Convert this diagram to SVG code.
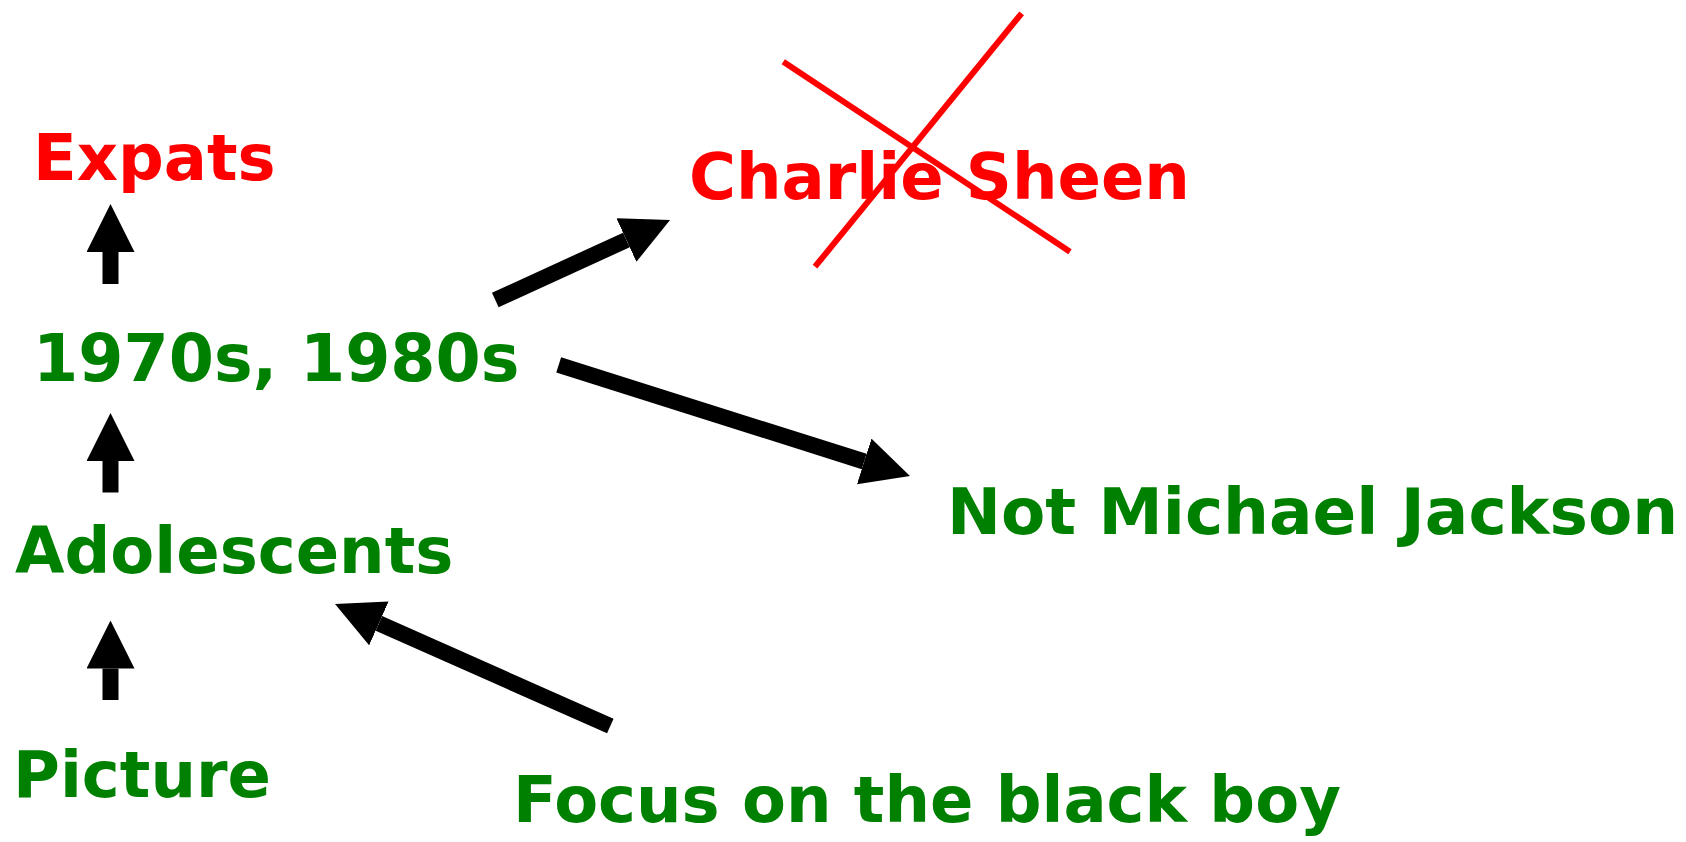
<svg xmlns="http://www.w3.org/2000/svg" width="1686" height="842" viewBox="0 0 1686 842">
<style>
text{font-family:"DejaVu Sans","Verdana",sans-serif;font-weight:bold;font-size:64px}
.red{fill:#ff0000}
.green{fill:#008000}
.conn{stroke:#000;stroke-width:16;fill:none;marker-end:url(#head)}
.cross{stroke:#ff0000;stroke-width:6;fill:none}
</style>
<defs>
<marker id="head" markerUnits="userSpaceOnUse" markerWidth="48" markerHeight="48" viewBox="0 0 48 48" refX="0" refY="24" orient="auto">
<path d="M0,0 L48,24 L0,48 Z" fill="#000"/>
</marker>
</defs>
<rect width="1686" height="842" fill="#fff"/>
<g id="connectors">
<line class="conn" x1="110.5" y1="284" x2="110.5" y2="252"/>
<line class="conn" x1="110.5" y1="492.5" x2="110.5" y2="461"/>
<line class="conn" x1="110.5" y1="700" x2="110.5" y2="668.5"/>
<line class="conn" x1="495.3" y1="300" x2="626.4" y2="240"/>
<line class="conn" x1="558.7" y1="364.8" x2="864.2" y2="461.5"/>
<line class="conn" x1="610.3" y1="726" x2="378.9" y2="623.4"/>
</g>
<g id="expats"><text class="red" x="33" y="180">Expats</text></g>
<g id="decades"><text class="green" x="33" y="381" style="font-size:65px">1970s, 1980s</text></g>
<g id="adolescents"><text class="green" x="15" y="572.5">Adolescents</text></g>
<g id="picture"><text class="green" x="13" y="796.5">Picture</text></g>
<g id="focus"><text class="green" x="513" y="821.5">Focus on the black boy</text></g>
<g id="not-mj"><text class="green" x="947" y="533.5" style="font-size:64.5px">Not Michael Jackson</text></g>
<g id="charlie">
<text class="red" x="689" y="198.5">Charlie Sheen</text>
<line class="cross" x1="1021.7" y1="13.3" x2="815" y2="266.7"/>
<line class="cross" x1="783.3" y1="61.7" x2="1070" y2="251.7"/>
</g>
</svg>
